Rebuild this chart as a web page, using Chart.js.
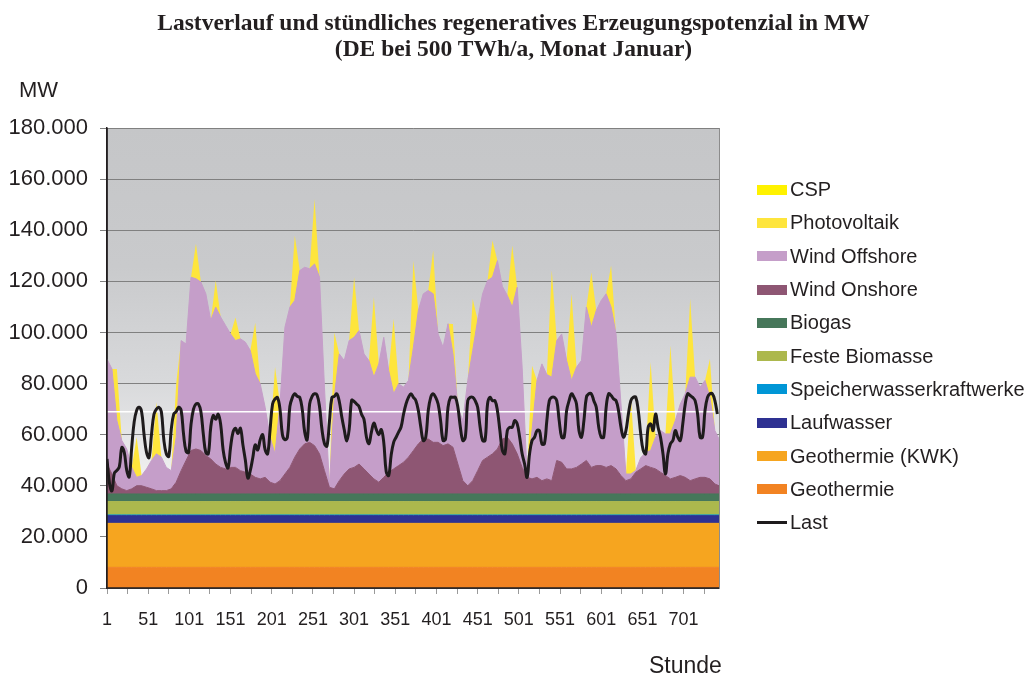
<!DOCTYPE html>
<html>
<head>
<meta charset="utf-8">
<script src="https://cdn.jsdelivr.net/npm/chart.js@4.4.1/dist/chart.umd.min.js"></script>
<style>
    body { margin: 0; background: #fff; }
    #wrap { position: relative; width: 1027px; height: 675px; overflow: hidden; font-family: 'Liberation Sans', Arial, sans-serif; color: #231f20; }
    #chart { position: absolute; left: 0; top: 0; }
    #title { position: absolute; left: 0; top: 9px; width: 1027px; text-align: center; font: bold 23.5px/26px 'Liberation Serif', 'Times New Roman', serif; }
    #unit { position: absolute; left: 19px; top: 78px; font-size: 22px; line-height: 24px; }
    #xname { position: absolute; left: 649px; top: 652px; font-size: 23px; line-height: 26px; }
    #legend { position: absolute; left: 757px; top: 173px; }
    .item { height: 33.3px; display: flex; align-items: center; font-size: 20px; white-space: nowrap; }
    .swatch { width: 30px; height: 10px; margin-right: 3px; flex: none; }
    .dash { width: 30px; height: 3px; margin-right: 3px; flex: none; }
</style>
</head>
<body>
<div id="wrap">
    <canvas id="chart" width="1027" height="675"></canvas>
    <div id="title">Lastverlauf und stündliches regeneratives Erzeugungspotenzial in MW<br>(DE bei 500 TWh/a, Monat Januar)</div>
    <div id="unit">MW</div>
    <div id="xname">Stunde</div>
    <div id="legend"></div>
</div>
<script>
// x axis: hours of January
const xTickLabels = [1, 51, 101, 151, 201, 251, 301, 351, 401, 451, 501, 551, 601, 651, 701];
const xTickMarks = [1, 26, 51, 76, 101, 126, 151, 176, 201, 226, 251, 276, 301, 326, 351, 376,
    401, 426, 451, 476, 501, 526, 551, 576, 601, 626, 651, 676, 701, 726];

// base load renewables, MW (roughly constant over the month)
const geothermie = 8100;
const geothermieKWK = 17200;
const laufwasser = 3000;
const speicherwasser = 300;
const festeBiomasse = 5200;
const biogas = 3000;

// wind, MW, read every 6 hours (h = 1, 7, 13, 19 of each day), last value = hour 744
const windOnshore = [
    11700, 7800, 3200, 2000,
    1300, 2000, 3200, 3200,
    2600, 2000, 1300, 1300,
    1300, 2000, 4600, 9100,
    13100, 17000, 17600, 17000,
    15000, 13700, 11700, 10400,
    9800, 10400, 10400, 9100,
    8500, 7800, 6500, 5900,
    6500, 4600, 3900, 5200,
    7800, 10400, 14400, 17600,
    19600, 20200, 18900, 15700,
    9100, 2600, 2000, 5200,
    7800, 9800, 10400, 11700,
    9800, 7800, 5900, 4600,
    6500, 8500, 9800, 11100,
    12400, 14400, 17000, 19600,
    21500, 21500, 20200, 20200,
    18900, 19600, 18300, 11700,
    5200, 3200, 5200, 9100,
    13100, 14400, 15700, 17600,
    21500, 22200, 19600, 15700,
    10400, 6500, 5900, 6500,
    5200, 5900, 5200, 13100,
    12400, 9800, 9800, 10400,
    11700, 13100, 10400, 11100,
    11100, 10400, 11100, 9800,
    7200, 5200, 5900, 8500,
    9800, 11100, 10400, 9800,
    8500, 7200, 5900, 6500,
    7200, 6500, 5200, 5900,
    6500, 6500, 5900, 3900,
    3200
];
const windOffshore = [
    41100, 41100, 25500, 18900,
    16300, 8400, 3300, 4000,
    7200, 11100, 14400, 13100,
    9100, 7100, 17600, 50900,
    45600, 67800, 66600, 65900,
    63300, 54200, 61400, 58800,
    56100, 52200, 49600, 51600,
    50900, 48300, 40500, 37200,
    27400, 17600, 11800, 30000,
    57400, 62700, 61300, 69800,
    69100, 67900, 71100, 69100,
    32700, 600, 35800, 49600,
    44400, 50200, 50900, 52200,
    45000, 44400, 39800, 46300,
    54800, 39800, 29400, 32000,
    29400, 30000, 40400, 52200,
    56800, 58100, 58100, 42400,
    38500, 47000, 36500, 22200,
    23500, 41200, 50900, 59000,
    65200, 69100, 69100, 73700,
    59700, 55500, 53500, 65200,
    39200, 1200, 18900, 37900,
    45700, 40800, 40500, 46900,
    50200, 42400, 34600, 39200,
    40500, 60000, 54800, 60700,
    64600, 67900, 62000, 52800,
    28000, 2600, 1900, 700,
    4400, 5100, 6600, 12400,
    16300, 16300, 17600, 22200,
    28000, 32700, 40500, 39800,
    35300, 37900, 31900, 20900,
    18300
];

// solar peak at midday (hour 13 of each day), MW
const photovoltaikPeak = [20200, 15700, 20200, 20900, 13700, 10400, 9000, 20000, 34000, 25400,
    25400, 25400, 23500, 31300, 29400, 33900, 17000, 11700, 20200, 14400,
    24100, 25400, 41800, 33900, 21500, 16300, 30000, 34600, 34600, 30700, 15000];
const cspPeak = [0, 0, 0, 0, 0, 0, 0, 0, 0, 0, 0, 0, 0, 0, 0, 0,
    0, 0, 0, 0, 0, 0, 0, 0, 0, 0, 0, 0, 0, 0, 0];

// load, MW, every 3 hours (h = 1, 4, ..., 22 of each day)
const last = [
    50500, 41000, 38000, 45000, 46000, 47500, 55000, 53000,
    46000, 43500, 55000, 65000, 69500, 70700, 69000, 60000,
    53000, 51000, 60000, 68000, 70000, 70700, 69000, 58000,
    52500, 51500, 62000, 68000, 69000, 70700, 69500, 60000,
    53500, 53000, 64000, 70000, 72000, 72000, 69000, 60000,
    53000, 52500, 63000, 67500, 66000, 68000, 64000, 54000,
    49000, 47000, 55000, 61000, 62500, 60500, 62500, 56000,
    50000, 43000, 46000, 51000, 56000, 54000, 58000, 60000,
    54000, 52500, 62000, 72000, 74000, 74500, 70000, 60000,
    58000, 59000, 71000, 74500, 76000, 75000, 74600, 70000,
    61000, 58000, 72000, 75000, 76000, 75500, 71000, 62000,
    56500, 55500, 65000, 74500, 75000, 76000, 73000, 67000,
    62000, 57500, 62000, 73500, 73000, 72000, 71000, 68000,
    66000, 59000, 56500, 61000, 64500, 62000, 60000, 62000,
    57000, 45500, 44000, 52000, 57000, 59000, 61000, 63000,
    68000, 72000, 74600, 76000, 74600, 73300, 69400, 62900,
    57700, 59000, 69400, 74600, 76000, 74600, 72000, 65500,
    57700, 58300, 70700, 74600, 74600, 74600, 70700, 62900,
    57700, 59000, 73300, 74600, 74600, 73300, 70700, 62900,
    57700, 57700, 72000, 74600, 73300, 73300, 69400, 61600,
    53800, 52500, 61600, 62900, 62900, 65500, 64200, 59000,
    52500, 48500, 43300, 52500, 57700, 59000, 61600, 61600,
    56400, 56400, 65500, 73300, 74600, 74600, 73300, 65500,
    59000, 59000, 69400, 73300, 76000, 74600, 72000, 61600,
    59000, 65500, 74600, 76000, 76000, 73300, 70700, 62900,
    59000, 59000, 70700, 76000, 75300, 74000, 73300, 69400,
    62900, 59000, 61600, 68100, 73300, 74600, 74600, 69400,
    60300, 53800, 52500, 62900, 64200, 61600, 68100, 62900,
    59000, 52500, 44600, 52500, 56400, 57700, 61600, 59000,
    57700, 64200, 72000, 76000, 75300, 74600, 73300, 68100,
    59000, 59000, 69400, 74600, 76000, 76000, 73300, 68100
];

// white reference line across the plot
const referenceLevel = 69000;

const windHours = [];
for (let h = 1; h <= 739; h += 6) windHours.push(h);
windHours.push(744);
const loadHours = [];
for (let h = 1; h <= 742; h += 3) loadHours.push(h);

function series(values) {
    return values.map((v, i) => ({ x: windHours[i], y: v }));
}
function flat(v) {
    return windHours.map(h => ({ x: h, y: v }));
}
function midday(peaks) {
    return windHours.map(h => ({ x: h, y: (h - 13) % 24 === 0 ? peaks[(h - 13) / 24] : 0 }));
}
function area(label, color, data, fill, edge) {
    return {
        label: label,
        data: data,
        backgroundColor: color,
        borderColor: edge ? color : 'rgba(0,0,0,0)',
        borderWidth: edge ? 1 : 0,
        pointRadius: 0,
        tension: 0,
        fill: fill,
        stack: 'supply',
        order: 3
    };
}

const datasets = [
    area('Geothermie', '#f28322', flat(geothermie), 'origin', true),
    area('Geothermie (KWK)', '#f6a51f', flat(geothermieKWK), '-1', true),
    area('Laufwasser', '#2e3192', flat(laufwasser), '-1', true),
    area('Speicherwasserkraftwerke', '#0096d6', flat(speicherwasser), '-1', true),
    area('Feste Biomasse', '#acb84d', flat(festeBiomasse), '-1', true),
    area('Biogas', '#46775a', flat(biogas), '-1', true),
    area('Wind Onshore', '#8e5673', series(windOnshore), '-1', true),
    area('Wind Offshore', '#c59ec9', series(windOffshore), '-1', true),
    area('Photovoltaik', '#fee53c', midday(photovoltaikPeak), '-1', false),
    area('CSP', '#fff200', midday(cspPeak), '-1', false),
    {
        label: 'ref',
        data: [{ x: 1, y: referenceLevel }, { x: 744, y: referenceLevel }],
        borderColor: '#ffffff',
        borderWidth: 1.5,
        pointRadius: 0,
        fill: false,
        stack: 'ref',
        order: 2
    },
    {
        label: 'Last',
        data: last.map((v, i) => ({ x: loadHours[i], y: v })),
        borderColor: '#1e1b1c',
        borderWidth: 3,
        pointRadius: 0,
        tension: 0.4,
        fill: false,
        stack: 'load',
        order: 1
    }
];

function thousands(v) {
    return String(v).replace(/\B(?=(\d{3})+(?!\d))/g, '.');
}

const backdrop = {
    id: 'backdrop',
    beforeDraw(chart) {
        const ctx = chart.ctx;
        const a = chart.chartArea;
        const g = ctx.createLinearGradient(0, a.top, 0, a.bottom);
        g.addColorStop(0, '#c5c6c8');
        g.addColorStop(0.3, '#c9cacc');
        g.addColorStop(0.55, '#d8d9db');
        g.addColorStop(0.72, '#ebebec');
        g.addColorStop(0.8, '#f7f7f7');
        g.addColorStop(1, '#ffffff');
        ctx.save();
        ctx.fillStyle = g;
        ctx.fillRect(a.left, a.top, a.right - a.left, a.bottom - a.top);
        ctx.restore();
    },
    afterDatasetsDraw(chart) {
        const ctx = chart.ctx;
        const a = chart.chartArea;
        ctx.save();
        ctx.strokeStyle = '#8c8c8c';
        ctx.lineWidth = 1;
        ctx.beginPath();
        ctx.moveTo(a.right + 0.5, a.top);
        ctx.lineTo(a.right + 0.5, a.bottom);
        ctx.stroke();
        ctx.strokeStyle = '#231f20';
        ctx.lineWidth = 1.5;
        ctx.beginPath();
        ctx.moveTo(a.left, a.top);
        ctx.lineTo(a.left, a.bottom);
        ctx.lineTo(a.right, a.bottom);
        ctx.stroke();
        ctx.restore();
    }
};

const chart = new Chart(document.getElementById('chart').getContext('2d'), {
    type: 'line',
    data: { datasets: datasets },
    options: {
        responsive: false,
        animation: false,
        layout: { padding: { left: 0, right: 308, top: 128, bottom: 0 } },
        plugins: {
            legend: { display: false },
            tooltip: { enabled: false },
            title: { display: false }
        },
        scales: {
            x: {
                type: 'linear',
                min: 1,
                max: 744,
                afterBuildTicks: scale => { scale.ticks = xTickMarks.map(v => ({ value: v })); },
                afterFit: scale => { scale.height = 87; },
                ticks: {
                    autoSkip: false,
                    maxRotation: 0,
                    padding: 15,
                    color: '#231f20',
                    font: { family: "'Liberation Sans', Arial, sans-serif", size: 18 },
                    callback: v => xTickLabels.includes(v) ? String(v) : ''
                },
                grid: { drawOnChartArea: false, drawTicks: true, tickLength: 6, color: '#9a9a9a' },
                border: { color: '#231f20', width: 1.5 }
            },
            y: {
                stacked: true,
                min: 0,
                max: 180000,
                afterFit: scale => { scale.width = 107; },
                ticks: {
                    stepSize: 20000,
                    padding: 12,
                    color: '#231f20',
                    font: { family: "'Liberation Sans', Arial, sans-serif", size: 22 },
                    callback: v => thousands(v)
                },
                grid: { color: '#808080', lineWidth: 1, tickLength: 7 },
                border: { color: '#231f20', width: 1.5 }
            }
        }
    },
    plugins: [backdrop]
});

// legend, top item = top of the stack
const legend = document.getElementById('legend');
const entries = datasets.filter(d => d.stack === 'supply').reverse()
    .concat(datasets.filter(d => d.stack === 'load'));
entries.forEach(d => {
    const item = document.createElement('div');
    item.className = 'item';
    const mark = document.createElement('span');
    if (d.stack === 'load') {
        mark.className = 'dash';
        mark.style.background = d.borderColor;
    } else {
        mark.className = 'swatch';
        mark.style.background = d.backgroundColor;
    }
    item.appendChild(mark);
    item.appendChild(document.createTextNode(d.label));
    legend.appendChild(item);
});
</script>
</body>
</html>
